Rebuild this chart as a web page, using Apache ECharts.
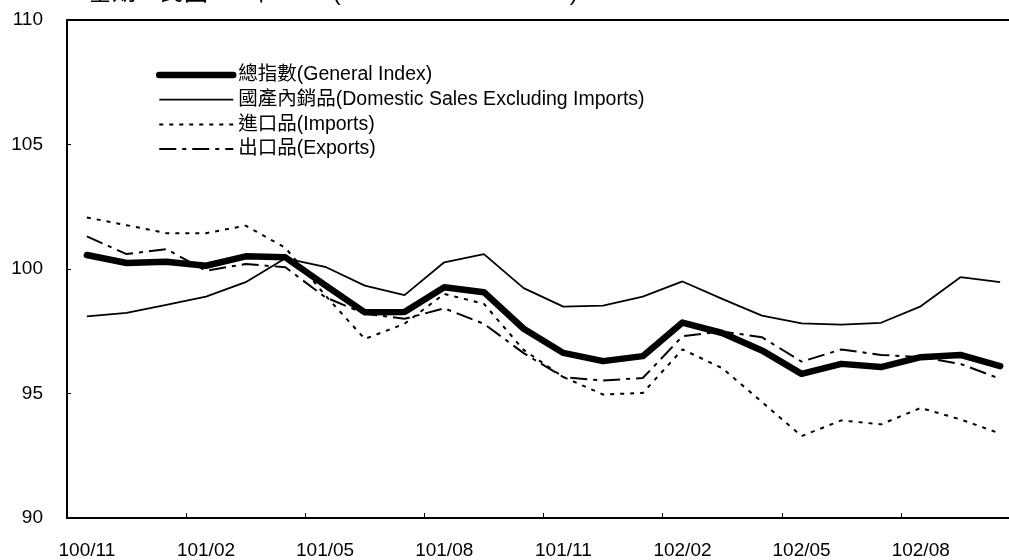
<!DOCTYPE html>
<html>
<head>
<meta charset="utf-8">
<script src="https://cdn.jsdelivr.net/npm/echarts@6/dist/echarts.min.js"></script>
<style>
html,body{margin:0;padding:0;background:#fff;overflow:hidden;width:1009px;height:560px;}
#chart{width:1020px;height:560px;}
</style>
</head>
<body>
<div id="chart"></div>
<script>
var categories = ['100/11','100/12','101/01','101/02','101/03','101/04','101/05','101/06','101/07','101/08','101/09','101/10','101/11','101/12','102/01','102/02','102/03','102/04','102/05','102/06','102/07','102/08','102/09','102/10'];
var generalIndex = [100.56,100.24,100.29,100.13,100.51,100.47,99.35,98.26,98.27,99.27,99.07,97.6,96.63,96.3,96.5,97.85,97.43,96.73,95.79,96.19,96.06,96.46,96.55,96.1];
var domestic = [98.1,98.24,98.56,98.89,99.47,100.43,100.09,99.33,98.95,100.27,100.6,99.23,98.49,98.53,98.89,99.5,98.8,98.13,97.82,97.77,97.84,98.5,99.67,99.47];
var imports = [102.07,101.76,101.44,101.44,101.74,100.85,98.95,97.19,97.8,99.0,98.6,96.75,95.66,94.96,95.02,96.77,96.02,94.66,93.29,93.92,93.76,94.42,93.96,93.39];
var exportsData = [101.31,100.6,100.8,99.93,100.2,100.07,98.87,98.2,98.0,98.42,97.8,96.62,95.66,95.52,95.62,97.3,97.49,97.26,96.28,96.77,96.55,96.46,96.19,95.59];
var seriesNames = ['總指數(General Index)','國產內銷品(Domestic Sales Excluding Imports)','進口品(Imports)','出口品(Exports)'];
var yTicks = [90,95,100,105,110];

var FONT = "'Liberation Sans', Arial, 'Noto Sans CJK TC', sans-serif";
var chart = echarts.init(document.getElementById('chart'), null, {renderer:'canvas'});
chart.setOption({
  animation:false,
  backgroundColor:'#ffffff',
  textStyle:{fontFamily:FONT,color:'#000'},
  title:{
    text:'基期：民國100年=100 (Base Year: 2011=100)',
    left:83, top:-24,
    textStyle:{fontFamily:FONT,fontSize:24,fontWeight:'normal',color:'#000'}
  },
  grid:{left:67,right:0,top:20,bottom:41,show:false},
  legend:{
    orient:'vertical',left:151,top:60,
    itemWidth:74,itemHeight:20,itemGap:4.7,
    itemStyle:{opacity:0},
    lineStyle:{width:'inherit'},
    textStyle:{fontFamily:FONT,fontSize:19.5,lineHeight:20,color:'#000'},
    data:seriesNames
  },
  xAxis:[{
    type:'category',data:categories,boundaryGap:true,
    axisLine:{lineStyle:{color:'#000',width:2}},
    axisTick:{show:true,inside:true,length:5,interval:2,lineStyle:{color:'#000',width:1}},
    axisLabel:{interval:2,margin:23,fontSize:19,color:'#000',fontFamily:FONT},
    splitLine:{show:false}
  },{
    type:'category',data:categories,position:'top',boundaryGap:true,
    axisLine:{show:true,lineStyle:{color:'#000',width:2}},
    axisTick:{show:false},axisLabel:{show:false},splitLine:{show:false}
  }],
  yAxis:{
    type:'value',min:yTicks[0],max:yTicks[yTicks.length-1],interval:5,
    axisLine:{show:true,lineStyle:{color:'#000',width:2}},
    axisTick:{show:true,inside:true,length:4,lineStyle:{color:'#000',width:1}},
    axisLabel:{margin:24,fontSize:19,color:'#000',fontFamily:FONT},
    splitLine:{show:false}
  },
  series:[
    {name:seriesNames[1],type:'line',data:domestic,symbol:'none',z:2,
     lineStyle:{color:'#000',width:1.8,type:'solid'},itemStyle:{color:'#000'}},
    {name:seriesNames[2],type:'line',data:imports,symbol:'none',z:2,
     lineStyle:{color:'#000',width:2,type:[4,6]},itemStyle:{color:'#000'}},
    {name:seriesNames[3],type:'line',data:exportsData,symbol:'none',z:2,
     lineStyle:{color:'#000',width:2,type:[17,6,4,6]},itemStyle:{color:'#000'}},
    {name:seriesNames[0],type:'line',data:generalIndex,symbol:'none',z:3,
     lineStyle:{color:'#000',width:6.5,type:'solid',cap:'round',join:'round'},itemStyle:{color:'#000'}}
  ]
});
</script>
</body>
</html>
